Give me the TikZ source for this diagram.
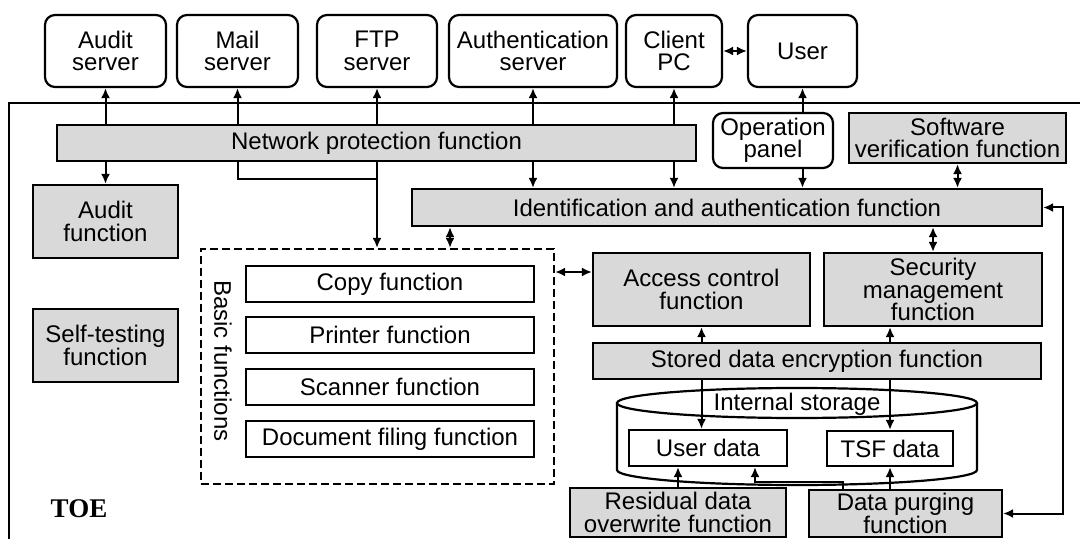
\documentclass[tikz,border=0pt]{standalone}
\usepackage{fontspec}
\setmainfont{Liberation Sans}
\newfontfamily\toefont{Liberation Serif}
\usetikzlibrary{arrows.meta}
\definecolor{fngray}{RGB}{217,217,217}

\begin{document}
\begin{tikzpicture}[x=0.5pt,y=-0.5pt,
 font=\fontsize{12}{11.25}\selectfont,
 ext/.style={draw,line width=1.1pt,rounded corners=5pt,fill=white,align=center,inner sep=0pt},
 fn/.style={draw,line width=1.1pt,fill=fngray,align=center,inner sep=0pt},
 sub/.style={draw,line width=1.1pt,fill=white,align=center,inner sep=0pt},
 conn/.style={line width=1pt,-{Latex[length=5pt,width=4.5pt]}},
 both/.style={line width=1pt,{Latex[length=5pt,width=4.5pt]}-{Latex[length=5pt,width=4.5pt]}},
 link/.style={line width=1pt}]
\useasboundingbox (0,0) rectangle (1080,539);
\draw[line width=0.8pt] (1080,103) -- (9,103) -- (9,539);
% outside the TOE
\node[ext,minimum width=60.5pt,minimum height=36pt] (audsrv) at (105.5,51) {Audit\\server};
\node[ext,minimum width=60.5pt,minimum height=36pt] (mailsrv) at (237.5,51) {Mail\\server};
\node[ext,minimum width=60pt,minimum height=36pt] (ftpsrv) at (377,51) {FTP\\server};
\node[ext,minimum width=84pt,minimum height=36pt] (authsrv) at (533,51) {Authentication\\server};
\node[ext,minimum width=48pt,minimum height=36pt] (client) at (674,51) {Client\\PC};
\node[ext,minimum width=54.5pt,minimum height=36pt] (user) at (802.5,51) {User};
% TOE functions
\node[fn,minimum width=319.5pt,minimum height=18pt] (netprot) at (376.5,143) {Network protection function};
\node[ext,minimum width=60pt,minimum height=27.5pt] (opanel) at (773,140.5) {Operation\\panel};
\node[fn,minimum width=108.5pt,minimum height=25pt] (swver) at (957.5,138) {Software\\verification function};
\node[fn,minimum width=315pt,minimum height=18.5pt] (ident) at (727,207.5) {Identification and authentication function};
\node[fn,minimum width=72.5pt,minimum height=36.5pt] (auditfn) at (105.5,221.5) {Audit\\function};
\node[fn,minimum width=72.5pt,minimum height=36.5pt] (selftest) at (105.5,345.5) {Self-testing\\function};
\node[draw,line width=1.1pt,dash pattern=on 4pt off 2pt,minimum width=176.5pt,minimum height=117.5pt] (basic) at (377.5,366.5) {};
\node[rotate=-90] (basiclbl) at (223,361) {Basic functions};
\node[sub,minimum width=144pt,minimum height=18pt] (copy) at (390,284) {Copy function};
\node[sub,minimum width=144pt,minimum height=18pt] (printer) at (390,335) {Printer function};
\node[sub,minimum width=144pt,minimum height=18pt] (scanner) at (390,387) {Scanner function};
\node[sub,minimum width=144pt,minimum height=18pt] (docfile) at (390,439) {Document filing function};
\node[fn,minimum width=108.5pt,minimum height=36.5pt] (access) at (701.5,289.5) {Access control\\function};
\node[fn,minimum width=109pt,minimum height=36.5pt] (secmgmt) at (933,289.5) {Security\\management\\function};
\node[fn,minimum width=224pt,minimum height=18pt] (encrypt) at (817,361) {Stored data encryption function};
% internal storage
\draw[line width=1.1pt] (797,403) ellipse [x radius=90pt,y radius=7.5pt];
\draw[line width=1.1pt] (617,403) -- (617,470) arc[start angle=180,end angle=360,x radius=90pt,y radius=7.5pt] -- (977,403);
\node (storage) at (797,404) {Internal storage};
\node[sub,minimum width=79pt,minimum height=18pt] (userdata) at (708,448) {User data};
\node[sub,minimum width=63pt,minimum height=17.5pt] (tsfdata) at (890,448.5) {TSF data};
\node[fn,minimum width=108pt,minimum height=24.5pt] (residual) at (678,512.5) {Residual data\\overwrite function};
\node[fn,minimum width=96.5pt,minimum height=23.5pt] (purging) at (905.5,513.5) {Data purging\\function};
\node[font=\toefont\bfseries\fontsize{13.5}{16}\selectfont] (toe) at (79,509) {TOE};
% connectors
\coordinate (mailjoin) at (377,179);
\coordinate (idb) at (450,0);
\coordinate (acb) at (0,272);
\coordinate (loop) at (1063,0);
\coordinate (pj) at (843,482);
\coordinate (uj) at (755,0);
\draw[conn] (netprot.north -| audsrv) -- (audsrv.south);
\draw[conn] (netprot.south -| auditfn) -- (auditfn.north);
\draw[conn] (netprot.north -| mailsrv) -- (mailsrv.south);
\draw[link] (netprot.south -| mailsrv) |- (mailjoin);
\draw[conn] (netprot.north -| ftpsrv) -- (ftpsrv.south);
\draw[conn] (netprot.south -| ftpsrv) -- (basic.north -| ftpsrv);
\draw[conn] (netprot.north -| authsrv) -- (authsrv.south);
\draw[conn] (netprot.south -| authsrv) -- (ident.north -| authsrv);
\draw[conn] (netprot.north -| client) -- (client.south);
\draw[conn] (netprot.south -| client) -- (ident.north -| client);
\draw[both] (client.east) -- (user.west);
\draw[conn] (opanel.north -| user) -- (user.south);
\draw[conn] (opanel.south -| user) -- (ident.north -| user);
\draw[both] (swver.south) -- (ident.north -| swver);
\draw[both] (ident.south -| idb) -- (basic.north -| idb);
\draw[both] (ident.south -| secmgmt) -- (secmgmt.north);
\draw[both] (basic.east |- acb) -- (access.west |- acb);
\draw[conn] (encrypt.north -| access) -- (access.south);
\draw[conn] (encrypt.north -| tsfdata) -- (secmgmt.south -| tsfdata);
\draw[conn] (encrypt.south -| access) -- (userdata.north -| access);
\draw[conn] (encrypt.south -| tsfdata) -- (tsfdata.north);
\draw[conn] (residual.north) -- (userdata.south -| residual);
\draw[conn] (purging.north -| pj) -- (pj) -| (userdata.south -| uj);
\draw[conn] (purging.north -| tsfdata) -- (tsfdata.south);
\draw[both] (purging.east) -| (loop |- ident.east) -- (ident.east);
\end{tikzpicture}
\end{document}
